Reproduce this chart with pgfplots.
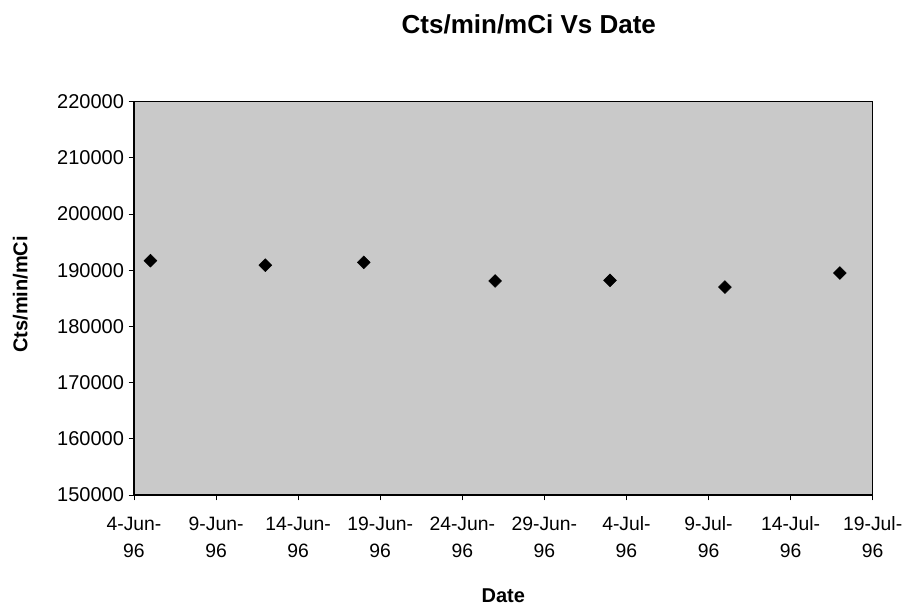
\documentclass[border=0pt]{standalone}
\usepackage{pgfplots}
\pgfplotsset{compat=1.18}
\usepackage{fontspec}
\setmainfont{Liberation Sans}

% Activity per unit dose, x = days after 4 Jun 1996
\newcommand{\dl}[2]{\begin{tabular}{@{}c@{}}#1\\[1pt]#2\end{tabular}}
\begin{document}
\begin{tikzpicture}
\useasboundingbox (-100.5pt,-83.25pt) rectangle (580.5pt,371.25pt);
\begin{axis}[
  at={(0pt,0pt)}, anchor=south west,
  scale only axis,
  width=554pt, height=295pt,
  xmin=0, xmax=45,
  ymin=150000, ymax=220000,
  xtick={0,5,10,15,20,25,30,35,40,45},
  xticklabels={{\dl{4-Jun-}{96}},{\dl{9-Jun-}{96}},{\dl{14-Jun-}{96}},{\dl{19-Jun-}{96}},{\dl{24-Jun-}{96}},{\dl{29-Jun-}{96}},{\dl{4-Jul-}{96}},{\dl{9-Jul-}{96}},{\dl{14-Jul-}{96}},{\dl{19-Jul-}{96}}},
  xticklabel style={anchor=north, font=\fontsize{14.5}{19}\selectfont, yshift=-6pt},
  ytick={150000,160000,...,220000},
  yticklabel style={font=\fontsize{15}{17}\selectfont},
  scaled y ticks=false,
  /pgf/number format/assume math mode=true,
  yticklabel={\pgfmathprintnumber[fixed,1000 sep={}]{\tick}},
  tick pos=left,
  tick align=outside,
  major tick length=4pt,
  axis line style={black, line width=1pt},
  tick style={black, line width=0.6pt},
  axis background/.style={fill=black!21},
  title={\textbf{Cts/min/mCi Vs Date}},
  title style={font=\fontsize{19.5}{21}\selectfont, at={(0.5345,1.175)}, anchor=center},
  xlabel={\textbf{Date}},
  xlabel style={font=\fontsize{15}{17}\selectfont, at={(0.5,-0.257)}, anchor=center},
  ylabel={\textbf{Cts/min/mCi}},
  ylabel style={font=\fontsize{15}{17}\selectfont, at={(-0.154,0.51)}, anchor=center},
  clip=false,
]
\addplot[only marks, mark=square*, mark options={rotate=45}, mark size=3.4pt, black] coordinates {
  (1,191700)
  (8,190900)
  (14,191400)
  (22,188100)
  (29,188200)
  (36,187000)
  (43,189500)
};
\end{axis}
\end{tikzpicture}
\end{document}
